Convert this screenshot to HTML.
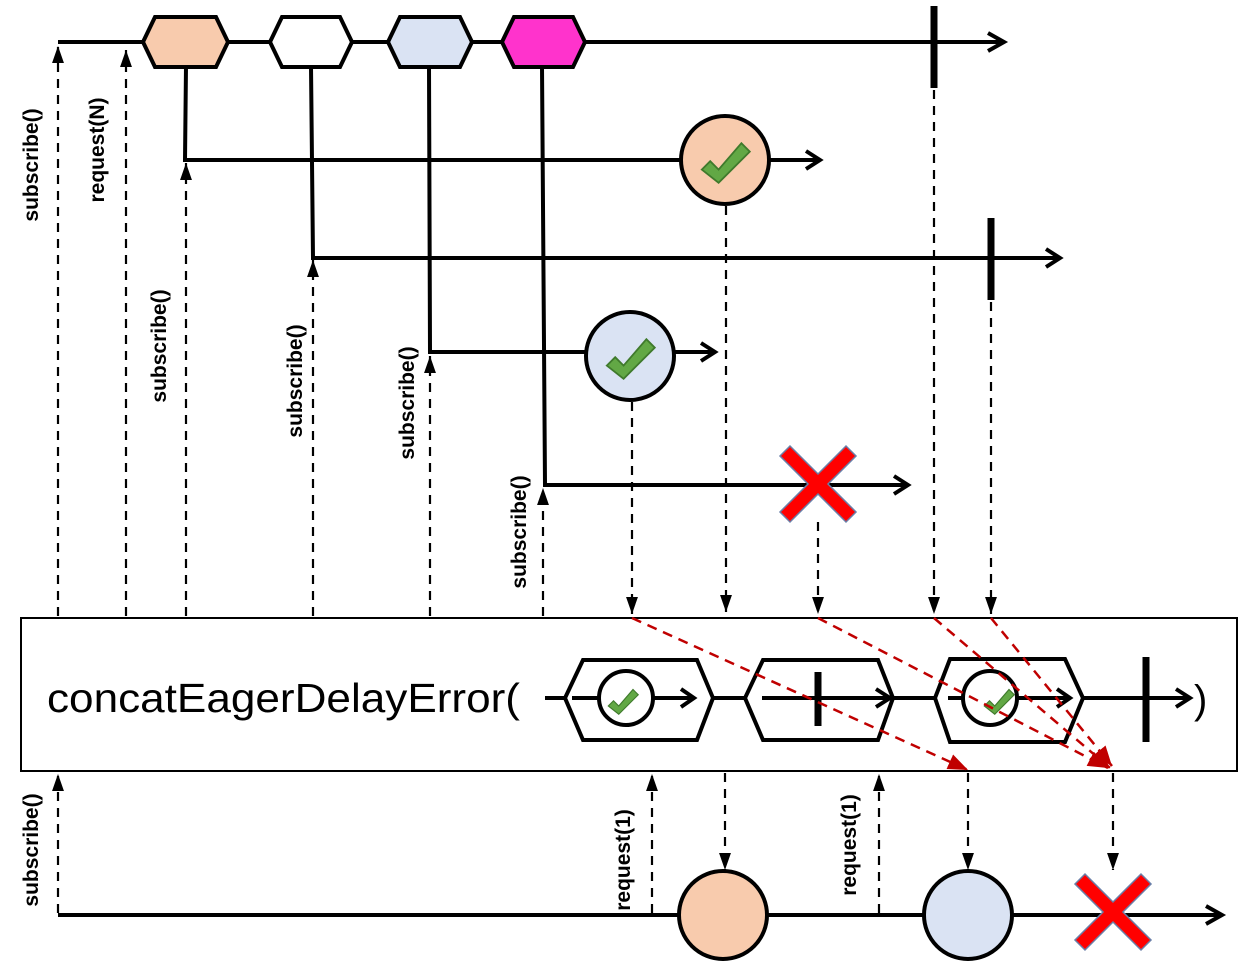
<!DOCTYPE html>
<html><head><meta charset="utf-8"><style>
html,body{margin:0;padding:0;background:#fff;}
svg{display:block;}
text{font-family:"Liberation Sans",sans-serif;}
.lb{font-weight:bold;font-size:21px;}
</style></head><body>
<svg width="1260" height="975" viewBox="0 0 1260 975" xmlns="http://www.w3.org/2000/svg">
<defs>
<marker id="tri" viewBox="0 0 10 10" markerWidth="17" markerHeight="17" refX="10" refY="5" orient="auto" markerUnits="userSpaceOnUse" preserveAspectRatio="none"><path d="M0,1.5 L10,5 L0,8.5 z" fill="#000"/></marker>
<marker id="rtri" viewBox="0 0 10 10" markerWidth="20" markerHeight="20" refX="10" refY="5" orient="auto" markerUnits="userSpaceOnUse"><path d="M0,1 L10,5 L0,9 z" fill="#c00000"/></marker>
<g id="chk"><path d="M-21,8 L-14,1 L-7,8 L12,-14 L19,-7 L-7,19 Z" fill="#62a845" stroke="#3f7a2c" stroke-width="1.5"/></g>
<g id="xx"><path d="M-38,-28 L-28,-38 L0,-10 L28,-38 L38,-28 L10,0 L38,28 L28,38 L0,10 L-28,38 L-38,28 L-10,0 Z" fill="#ff0000" stroke="#6a7fa8" stroke-width="1.5"/></g>
</defs>
<g stroke="#000" stroke-width="4" fill="none" stroke-linecap="butt">
<line x1="58" y1="42" x2="1002" y2="42"/>
<polyline points="988,33 1004,42 988,51"/>
<line x1="934" y1="6" x2="934" y2="88" stroke-width="7"/>
<polyline points="186,66 185,160 818,160"/>
<polyline points="806,151 820,160 806,169"/>
<polyline points="311,66 313,258 1058,258"/>
<polyline points="1046,249 1060,258 1046,267"/>
<line x1="991" y1="218" x2="991" y2="300" stroke-width="7"/>
<polyline points="429,66 430,352 713,352"/>
<polyline points="701,343 715,352 701,361"/>
<polyline points="542,66 545,485 906,485"/>
<polyline points="894,476 908,485 894,494"/>
</g>
<g stroke="#000" stroke-width="4">
<polygon points="155,17 216,17 228,42 216,67 155,67 143,42" fill="#f8cbad"/>
<polygon points="282,17 340,17 352,42 340,67 282,67 270,42" fill="#fff"/>
<polygon points="400,17 460,17 472,42 460,67 400,67 388,42" fill="#dae3f3"/>
<polygon points="514,17 573,17 585,42 573,67 514,67 502,42" fill="#ff33cc"/>
<circle cx="725" cy="160" r="44" fill="#f8cbad"/>
<circle cx="630" cy="356" r="44" fill="#dae3f3"/>
</g>
<use href="#chk" transform="translate(727,160) scale(1.2)"/>
<use href="#chk" transform="translate(632,356) scale(1.2)"/>
<use href="#xx" x="818" y="484"/>
<g stroke="#000" stroke-width="2.2" stroke-dasharray="9,7" fill="none">
<line x1="58" y1="616" x2="58" y2="46" marker-end="url(#tri)"/>
<line x1="126" y1="616" x2="126" y2="50" marker-end="url(#tri)"/>
<line x1="186" y1="616" x2="186" y2="163" marker-end="url(#tri)"/>
<line x1="313" y1="616" x2="313" y2="260" marker-end="url(#tri)"/>
<line x1="430" y1="616" x2="430" y2="356" marker-end="url(#tri)"/>
<line x1="543" y1="616" x2="543" y2="488" marker-end="url(#tri)"/>
<line x1="632" y1="402" x2="632" y2="614" marker-end="url(#tri)"/>
<line x1="726" y1="206" x2="726" y2="612" marker-end="url(#tri)"/>
<line x1="818" y1="522" x2="818" y2="614" marker-end="url(#tri)"/>
<line x1="934" y1="90" x2="934" y2="614" marker-end="url(#tri)"/>
<line x1="991" y1="302" x2="991" y2="614" marker-end="url(#tri)"/>
</g>
<g fill="#000">
<text class="lb" transform="translate(38,165) rotate(-90)" text-anchor="middle">subscribe()</text>
<text class="lb" transform="translate(104,150) rotate(-90)" text-anchor="middle">request(N)</text>
<text class="lb" transform="translate(166,346) rotate(-90)" text-anchor="middle">subscribe()</text>
<text class="lb" transform="translate(302,381) rotate(-90)" text-anchor="middle">subscribe()</text>
<text class="lb" transform="translate(414,403) rotate(-90)" text-anchor="middle">subscribe()</text>
<text class="lb" transform="translate(526,532) rotate(-90)" text-anchor="middle">subscribe()</text>
<text class="lb" transform="translate(38,850) rotate(-90)" text-anchor="middle">subscribe()</text>
<text class="lb" transform="translate(630,860) rotate(-90)" text-anchor="middle">request(1)</text>
<text class="lb" transform="translate(856,845) rotate(-90)" text-anchor="middle">request(1)</text>
</g>
<rect x="21" y="618" width="1216" height="153" fill="#fff" stroke="#000" stroke-width="2"/>
<text x="47" y="712" font-size="41" textLength="473" lengthAdjust="spacingAndGlyphs">concatEagerDelayError(</text>
<text x="1194" y="713" font-size="40">)</text>
<g stroke="#000" stroke-width="4" fill="none">
<line x1="545" y1="698" x2="1188" y2="698"/>
<polyline points="1176,689 1190,698 1176,707"/>
<line x1="1146" y1="657" x2="1146" y2="742" stroke-width="7"/>
<polygon points="583,660 697,660 713,698 697,740 583,740 565,698" fill="#fff"/>
<polygon points="763,660 878,660 893,698 878,740 763,740 745,698" fill="#fff"/>
<polygon points="950,659 1065,659 1083,698 1065,742 950,742 935,698" fill="#fff"/>
<line x1="572" y1="698" x2="693" y2="698"/>
<polyline points="681,689 694,698 681,707"/>
<circle cx="626" cy="698" r="27" fill="#fff"/>
<line x1="762" y1="698" x2="890" y2="698"/>
<polyline points="876,689 890,698 876,707"/>
<line x1="818" y1="672" x2="818" y2="726" stroke-width="7"/>
<line x1="948" y1="698" x2="1070" y2="698"/>
<polyline points="1057,689 1070,698 1057,707"/>
<circle cx="990" cy="698" r="27" fill="#fff"/>
</g>
<use href="#chk" transform="translate(624,700) scale(0.75)"/>
<use href="#chk" transform="translate(1000,700) scale(0.75)"/>
<g stroke="#c00000" stroke-width="2.5" stroke-dasharray="10,7" fill="none">
<line x1="632" y1="618" x2="968" y2="770" marker-end="url(#rtri)"/>
<line x1="818" y1="618" x2="1108" y2="768" marker-end="url(#rtri)"/>
<line x1="934" y1="618" x2="1110" y2="768" marker-end="url(#rtri)"/>
<line x1="991" y1="618" x2="1112" y2="766" marker-end="url(#rtri)"/>
</g>
<g stroke="#000" stroke-width="4" fill="none">
<line x1="58" y1="915" x2="1220" y2="915"/>
<polyline points="1206,906 1222,915 1206,924"/>
</g>
<g stroke="#000" stroke-width="2.2" stroke-dasharray="9,7" fill="none">
<line x1="58" y1="913" x2="58" y2="774" marker-end="url(#tri)"/>
<line x1="652" y1="913" x2="652" y2="774" marker-end="url(#tri)"/>
<line x1="879" y1="913" x2="879" y2="774" marker-end="url(#tri)"/>
<line x1="725" y1="773" x2="725" y2="870" marker-end="url(#tri)"/>
<line x1="968" y1="773" x2="968" y2="870" marker-end="url(#tri)"/>
<line x1="1113" y1="773" x2="1113" y2="870" marker-end="url(#tri)"/>
</g>
<circle cx="723" cy="915" r="44" fill="#f8cbad" stroke="#000" stroke-width="4"/>
<circle cx="968" cy="915" r="44" fill="#dae3f3" stroke="#000" stroke-width="4"/>
<use href="#xx" x="1113" y="912"/>
</svg>
</body></html>
